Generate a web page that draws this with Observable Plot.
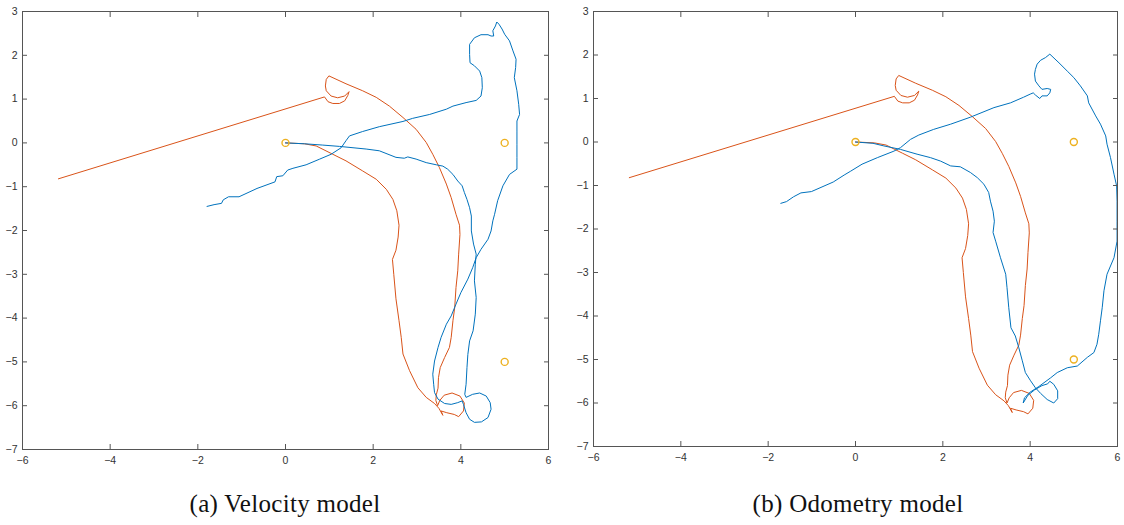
<!DOCTYPE html>
<html>
<head>
<meta charset="utf-8">
<script src="https://cdn.jsdelivr.net/npm/d3@7"></script>
<script src="https://cdn.jsdelivr.net/npm/@observablehq/plot@0.6"></script>
<style>
  html, body { margin: 0; padding: 0; background: #fff; }
  #page { position: relative; width: 1124px; height: 525px; overflow: hidden; }
  .panel { position: absolute; top: 0; }
  .caption {
    position: absolute; top: 489px; width: 400px; text-align: center;
    font-family: "Liberation Serif", "DejaVu Serif", serif; font-size: 25px;
    letter-spacing: 0.3px; color: #111; line-height: 30px;
  }
</style>
</head>
<body>
<div id="page">
  <div id="panelA" class="panel" style="left:0px"></div>
  <div id="panelB" class="panel" style="left:560px"></div>
  <div class="caption" style="left:85px">(a) Velocity model</div>
  <div class="caption" style="left:658px">(b) Odometry model</div>
</div>
<script>
// Axis ticks shared by both panels
const xTicks = [-6, -4, -2, 0, 2, 4, 6];
const yTicks = [-7, -6, -5, -4, -3, -2, -1, 0, 1, 2, 3];

// Landmark positions (drawn as open circles)
const landmarkX = [0, 5, 5];
const landmarkY = [0, 0, -5];

// Dead-reckoned pose estimate (same in both panels)
const orangePath = [
  [0,0],[0.43,-0.02],[0.70,-0.07],[1.08,-0.26],[1.38,-0.41],[1.76,-0.64],[2.07,-0.83],[2.30,-1.06],
  [2.45,-1.29],[2.54,-1.55],[2.59,-1.88],[2.57,-2.15],[2.52,-2.45],[2.44,-2.66],[2.47,-3.0],[2.52,-3.56],
  [2.59,-4.06],[2.64,-4.44],[2.68,-4.82],[2.83,-5.2],[3.02,-5.59],[3.21,-5.81],[3.40,-5.95],[3.50,-6.06],
  [3.59,-6.22],[3.55,-6.12],[3.68,-6.16],[3.85,-6.2],[3.95,-6.25],[4.06,-6.12],[4.08,-5.94],[3.98,-5.78],
  [3.80,-5.71],[3.62,-5.76],[3.52,-5.88],[3.47,-6.0],[3.43,-5.88],[3.44,-5.75],[3.48,-5.6],[3.49,-5.36],
  [3.53,-5.13],[3.63,-4.90],[3.74,-4.67],[3.78,-4.44],[3.82,-4.06],[3.86,-3.76],[3.89,-3.30],[3.93,-2.92],
  [3.95,-2.54],[3.98,-2.09],[3.97,-1.88],[3.89,-1.63],[3.78,-1.25],[3.67,-0.94],[3.51,-0.56],[3.36,-0.26],
  [3.21,0.01],[2.98,0.31],[2.68,0.58],[2.37,0.84],[2.07,1.04],[1.76,1.19],[1.38,1.35],[0.99,1.53],
  [0.93,1.45],[0.91,1.30],[0.93,1.19],[1.04,1.07],[1.19,1.03],[1.35,1.07],[1.45,1.17],[1.42,1.08],
  [1.35,0.96],[1.23,0.90],[1.08,0.90],[0.97,0.94],[0.89,1.05],[-5.18,-0.82]
];

// Filtered trajectory, velocity motion model
const bluePathA = [
  [0,0],[0.43,-0.02],[0.85,-0.05],[1.23,-0.08],[1.84,-0.14],[2.14,-0.18],[2.52,-0.33],[2.71,-0.35],
  [2.79,-0.32],[2.98,-0.37],[3.21,-0.45],[3.44,-0.50],[3.59,-0.53],[3.70,-0.60],[3.82,-0.72],[3.93,-0.87],
  [4.03,-0.98],[4.08,-1.13],[4.14,-1.29],[4.20,-1.48],[4.24,-1.67],[4.24,-2.01],[4.29,-2.31],[4.35,-2.54],
  [4.33,-2.77],[4.31,-3.15],[4.35,-3.53],[4.33,-3.91],[4.28,-4.29],[4.20,-4.52],[4.16,-4.83],[4.14,-5.13],
  [4.12,-5.51],[4.09,-5.74],[4.12,-5.81],[4.27,-5.74],[4.43,-5.71],[4.58,-5.78],[4.67,-5.93],[4.69,-6.08],
  [4.62,-6.27],[4.47,-6.37],[4.31,-6.38],[4.20,-6.31],[4.12,-6.16],[4.06,-5.97],[4.03,-5.89],[3.93,-5.93],
  [3.78,-5.97],[3.63,-5.95],[3.48,-5.85],[3.40,-5.70],[3.38,-5.51],[3.36,-5.28],[3.40,-4.98],[3.48,-4.67],
  [3.55,-4.44],[3.67,-4.14],[3.78,-3.95],[3.89,-3.68],[4.00,-3.42],[4.16,-3.11],[4.27,-2.85],[4.35,-2.62],
  [4.46,-2.43],[4.62,-2.20],[4.69,-2.01],[4.73,-1.78],[4.77,-1.63],[4.84,-1.32],[4.96,-0.98],[5.11,-0.72],
  [5.28,-0.60],[5.28,-0.33],[5.28,-0.03],[5.28,0.27],[5.28,0.50],[5.34,0.65],[5.32,0.88],[5.28,1.19],
  [5.22,1.49],[5.25,1.72],[5.26,1.91],[5.19,2.10],[5.11,2.33],[5.00,2.48],[4.94,2.60],[4.87,2.71],
  [4.82,2.76],[4.79,2.67],[4.73,2.56],[4.75,2.44],[4.69,2.44],[4.62,2.47],[4.46,2.47],[4.31,2.40],
  [4.20,2.25],[4.20,2.02],[4.21,1.83],[4.31,1.76],[4.43,1.64],[4.48,1.49],[4.49,1.26],[4.46,1.07],
  [4.35,0.97],[4.12,0.92],[3.82,0.84],[3.67,0.77],[3.29,0.65],[2.90,0.56],[2.68,0.49],[2.14,0.37],
  [1.76,0.26],[1.46,0.16],[1.38,0.05],[1.27,-0.11],[1.04,-0.26],[0.78,-0.37],[0.47,-0.50],[0.17,-0.58],
  [0.05,-0.62],[-0.06,-0.75],[-0.20,-0.77],[-0.24,-0.89],[-0.65,-1.04],[-1.06,-1.23],[-1.30,-1.23],
  [-1.42,-1.30],[-1.46,-1.38],[-1.63,-1.41],[-1.79,-1.45]
];

// Filtered trajectory, odometry motion model
const bluePathB = [
  [0,0],[0.40,-0.03],[0.65,-0.09],[1.03,-0.17],[1.41,-0.28],[1.72,-0.36],[1.95,-0.44],[2.18,-0.55],
  [2.40,-0.57],[2.63,-0.70],[2.79,-0.82],[2.94,-0.97],[3.05,-1.16],[3.09,-1.36],[3.15,-1.59],[3.18,-1.82],
  [3.15,-2.08],[3.21,-2.28],[3.32,-2.66],[3.44,-3.04],[3.47,-3.35],[3.51,-3.81],[3.56,-4.27],[3.66,-4.46],
  [3.74,-4.73],[3.82,-5.03],[3.89,-5.30],[4.01,-5.49],[4.12,-5.65],[4.24,-5.78],[4.39,-5.92],[4.54,-6.0],
  [4.63,-5.9],[4.63,-5.72],[4.54,-5.57],[4.45,-5.5],[4.40,-5.56],[4.27,-5.60],[4.10,-5.70],[3.95,-5.82],
  [3.84,-6.0],[3.87,-5.88],[4.0,-5.75],[4.2,-5.62],[4.47,-5.42],[4.62,-5.30],[4.85,-5.19],[5.08,-5.15],
  [5.31,-4.95],[5.46,-4.84],[5.53,-4.65],[5.57,-4.42],[5.61,-4.11],[5.65,-3.81],[5.69,-3.42],[5.76,-3.04],
  [5.92,-2.66],[5.99,-2.28],[5.99,-1.82],[5.99,-1.36],[5.98,-1.01],[5.92,-0.74],[5.84,-0.36],[5.76,-0.05],
  [5.73,0.14],[5.61,0.41],[5.50,0.60],[5.34,0.90],[5.31,1.06],[5.15,1.29],[5.00,1.48],[4.85,1.63],
  [4.66,1.82],[4.45,2.02],[4.35,1.94],[4.24,1.88],[4.16,1.79],[4.12,1.67],[4.10,1.56],[4.12,1.40],
  [4.20,1.29],[4.27,1.21],[4.39,1.23],[4.47,1.21],[4.45,1.13],[4.39,1.06],[4.27,1.06],[4.22,1.0],
  [4.12,1.08],[4.07,1.13],[4.00,1.10],[3.85,1.03],[3.55,0.90],[3.17,0.79],[2.63,0.57],[2.18,0.41],
  [1.79,0.29],[1.45,0.16],[1.26,0.06],[1.03,-0.13],[0.88,-0.21],[0.50,-0.36],[0.15,-0.51],[-0.11,-0.67],
  [-0.26,-0.76],[-0.51,-0.92],[-1.01,-1.14],[-1.25,-1.17],[-1.42,-1.26],[-1.58,-1.37],[-1.71,-1.41]
];

const BLUE = "#0072BD";
const ORANGE = "#D95319";
const YELLOW = "#EDB120";
const AXIS = "#555";

const landmarks = landmarkX.map((x, i) => ({x, y: landmarkY[i]}));

function panel(bluePath, m) {
  const txt = {fill: "#333", fontSize: 10.5};
  return Plot.plot({
    width: m.width, height: 470,
    marginLeft: m.left, marginRight: m.right, marginTop: 11, marginBottom: m.bottom,
    style: {fontFamily: "Liberation Sans, Arial, sans-serif", fontSize: "10.5px", background: "#fff"},
    x: {domain: [-6, 6], ticks: xTicks},
    y: {domain: [-7, 3], ticks: yTicks},
    marks: [
      Plot.line(orangePath, {x: d => d[0], y: d => d[1], stroke: ORANGE, strokeWidth: 1}),
      Plot.line(bluePath, {x: d => d[0], y: d => d[1], stroke: BLUE, strokeWidth: 1}),
      Plot.dot(landmarks, {x: "x", y: "y", r: 3.5, stroke: YELLOW, strokeWidth: 1.4, fill: "none"}),
      Plot.frame({stroke: AXIS, strokeWidth: 1}),
      // tick labels
      Plot.axisX(xTicks, {anchor: "bottom", tickSize: 0, tickPadding: 7, label: null, ...txt}),
      Plot.axisY(yTicks, {anchor: "left", tickSize: 0, tickPadding: 5, label: null, ...txt}),
      // inward ticks on all four sides
      Plot.axisX(xTicks, {anchor: "bottom", tickSize: -5, tickFormat: () => "", label: null, stroke: AXIS}),
      Plot.axisX(xTicks, {anchor: "top", tickSize: -5, tickFormat: () => "", label: null, stroke: AXIS}),
      Plot.axisY(yTicks, {anchor: "left", tickSize: -5, tickFormat: () => "", label: null, stroke: AXIS}),
      Plot.axisY(yTicks, {anchor: "right", tickSize: -5, tickFormat: () => "", label: null, stroke: AXIS})
    ]
  });
}

document.getElementById("panelA").append(panel(bluePathA, {width: 560, left: 22, right: 12, bottom: 21}));
document.getElementById("panelB").append(panel(bluePathB, {width: 564, left: 33, right: 7, bottom: 24}));
</script>
</body>
</html>
